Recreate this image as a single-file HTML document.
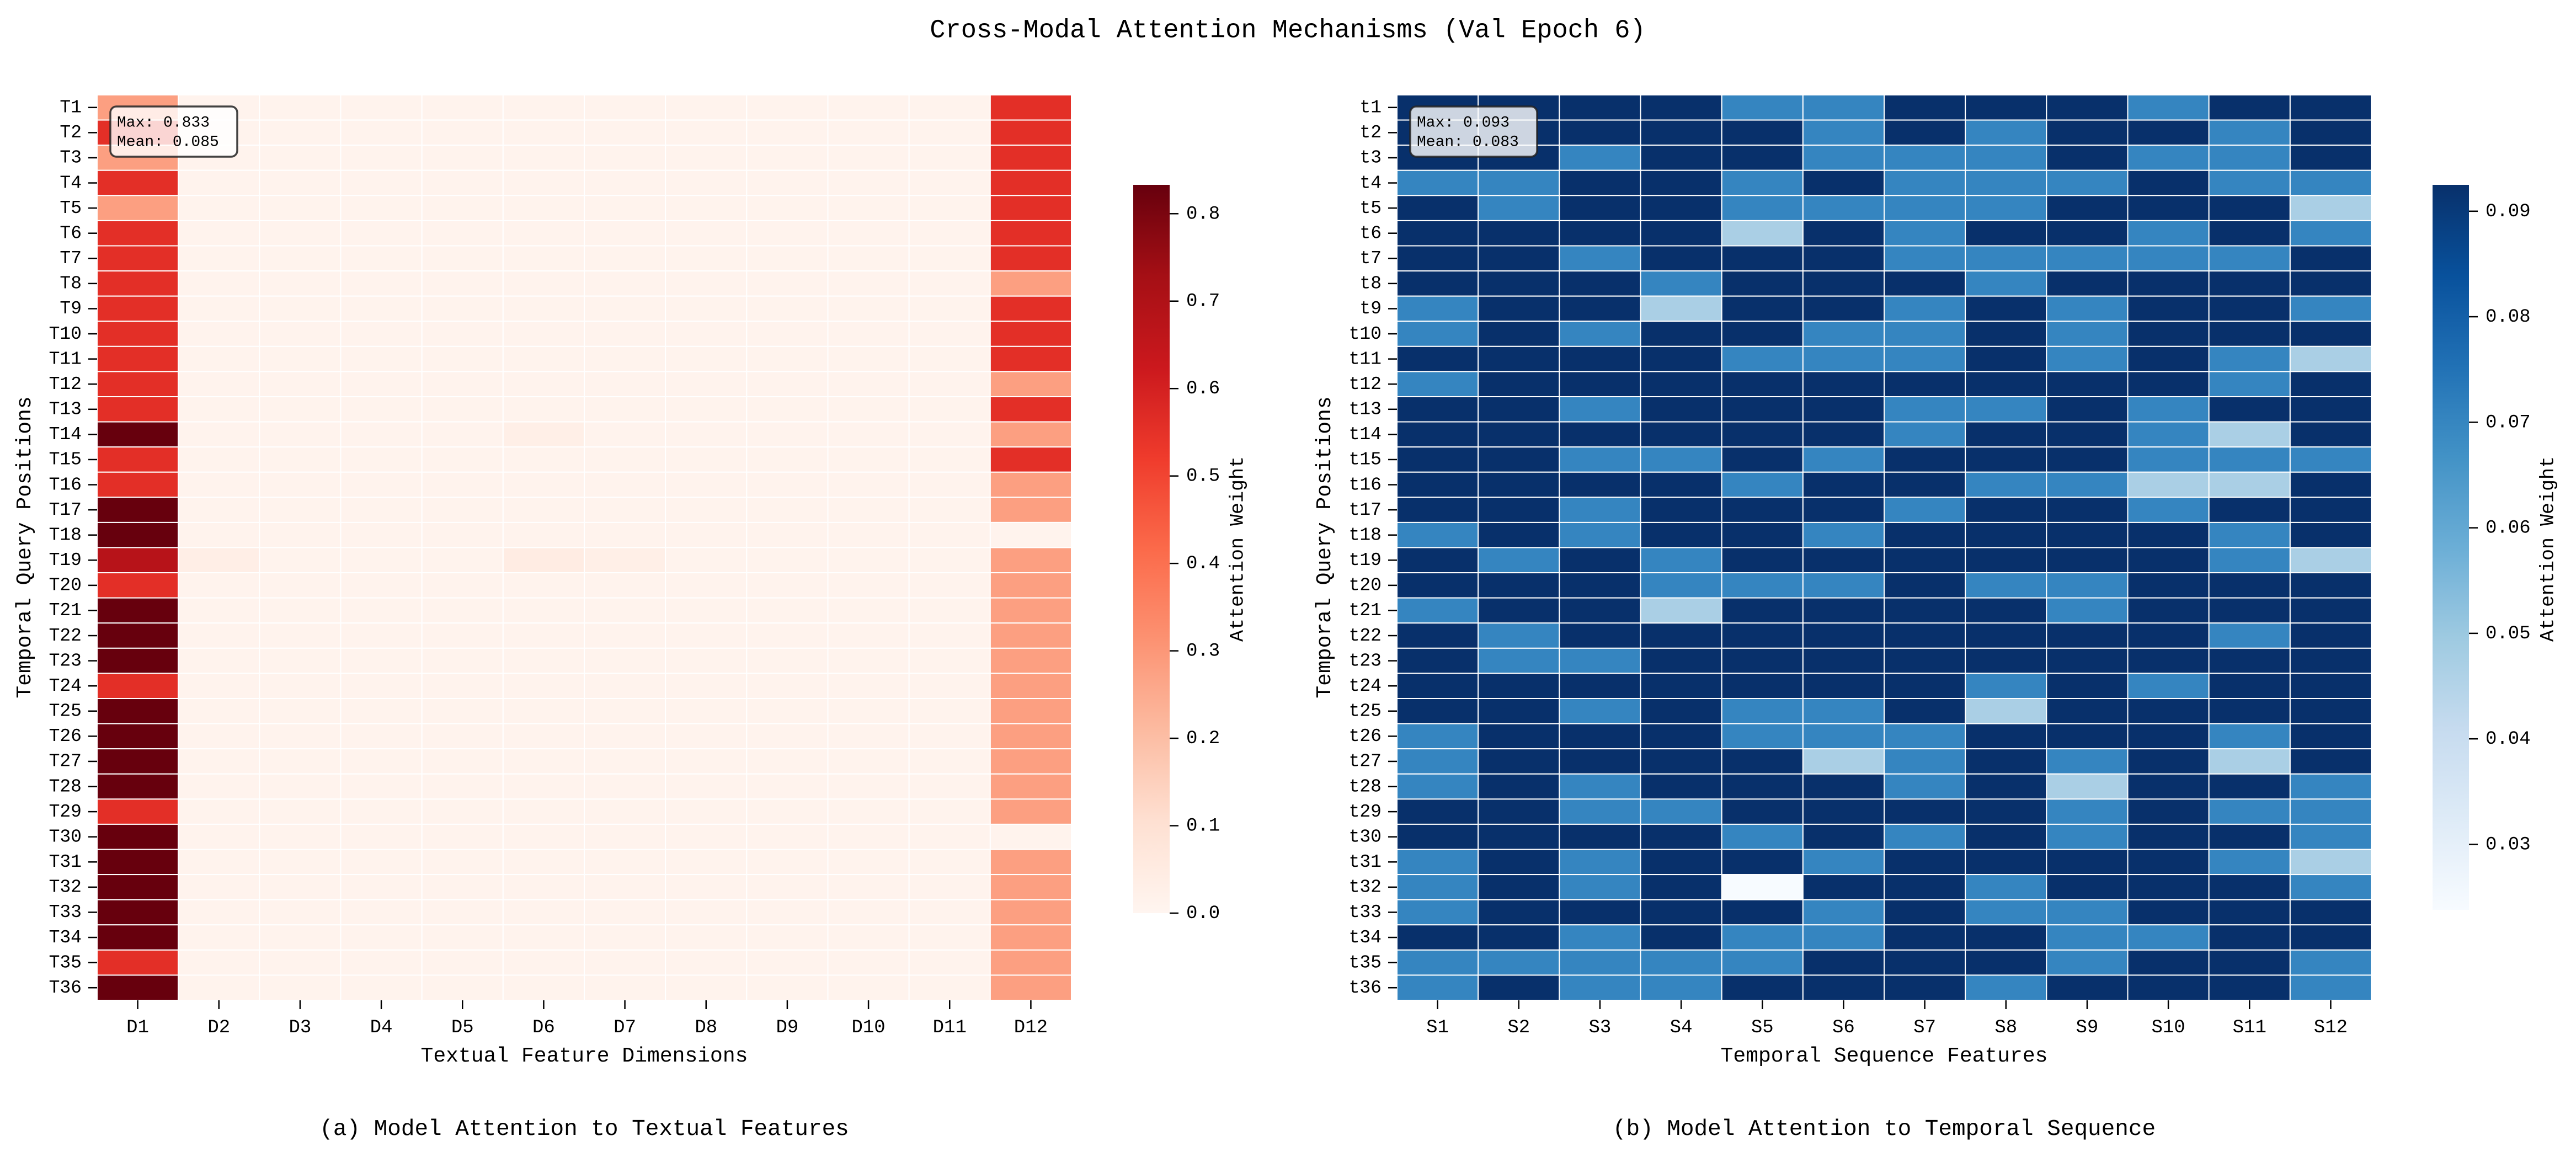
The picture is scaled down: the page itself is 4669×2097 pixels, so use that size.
<!DOCTYPE html>
<html><head><meta charset="utf-8"><style>
html,body{margin:0;padding:0;background:#fff;}
svg{display:block;}
text{font-family:"Liberation Mono","Noto Sans CJK SC",monospace;fill:#000;}
</style></head><body>
<svg id="fig" width="4669" height="2097" viewBox="0 0 4669 2097" xmlns="http://www.w3.org/2000/svg">
<text x="2334" y="55" font-size="47" text-anchor="middle" dominant-baseline="middle">Cross-Modal Attention Mechanisms (Val Epoch 6)</text>
<g id="left"></g>
<g id="right"></g>
</svg>
<script>
// ---- data: textual attention (rows T1..T36, cols D1..D12) ----
const leftRows = Array.from({length:36},(_,i)=>'T'+(i+1));
const leftCols = Array.from({length:12},(_,i)=>'D'+(i+1));
const leftD1 = [0.28,0.555,0.28,0.555,0.28,0.555,0.555,0.555,0.555,0.555,0.555,0.555,0.555,0.833,0.555,0.555,0.833,0.833,0.68,0.555,0.833,0.833,0.833,0.555,0.833,0.833,0.833,0.833,0.555,0.833,0.833,0.833,0.833,0.833,0.555,0.833];
const leftD12 = [0.555,0.555,0.555,0.555,0.555,0.555,0.555,0.28,0.555,0.555,0.555,0.28,0.555,0.28,0.555,0.28,0.28,0.012,0.28,0.28,0.28,0.28,0.28,0.28,0.28,0.28,0.28,0.28,0.28,0.012,0.28,0.28,0.28,0.28,0.28,0.28];
const leftBase = 0.012;
const leftBumps = [[13,5,0.03],[18,1,0.035],[18,5,0.045],[18,6,0.03]]; // [row, col, value]
const leftTicks = [0,0.1,0.2,0.3,0.4,0.5,0.6,0.7,0.8];
const leftVmin = 0, leftVmax = 0.833;

// ---- data: temporal attention (rows t1..t36, cols S1..S12) ----
const rightRows = Array.from({length:36},(_,i)=>'t'+(i+1));
const rightCols = Array.from({length:12},(_,i)=>'S'+(i+1));
const rightLevels = {D:0.0925,M:0.070,L:0.047,W:0.0238};
const rightGrid = [
"DDDDMMDDDMDD","DDDDDMDMDDMD","DDMDDMMMDMMD","MMDDMDMMMDMM","DMDDMMMMDDDL","DDDDLDMDDMDM",
"DDMDDDMMMMMD","DDDMDDDMDDDD","MDDLDDMDMDDM","MDMDDMMDMDDD","DDDDMMMDMDML","MDDDDDDDDDMD",
"DDMDDDMMDMDD","DDDDDDMDDMLD","DDMMDMDDDMMM","DDDDMDDMMLLD","DDMDDDMDDMDD","MDMDDMDDDDMD",
"DMDMDDDDDDML","DDDMMMDMMDDD","MDDLDDDDMDDD","DMDDDDDDDDMD","DMMDDDDDDDDD","DDDDDDDMDMDD",
"DDMDMMDLDDDD","MDDDMMMDDDMD","MDDDDLMDMDLD","MDMDDDMDLDDM","DDMMDDDDMDMM","DDDDMDMDMDDM",
"MDMDDMDDDDML","MDMDWDDMDDDM","MDDDDMDMMDDD","DDMDMMDDMMDD","MMMMMDDDMDDM","MDMMDDDMDDDM"];
const rightTicks = [0.03,0.04,0.05,0.06,0.07,0.08,0.09];
const rightVmin = 0.0238, rightVmax = 0.0925;

const REDS=["#fff5f0","#fee0d2","#fcbba1","#fc9272","#fb6a4a","#ef3b2c","#cb181d","#a50f15","#67000d"];
const BLUES=["#f7fbff","#deebf7","#c6dbef","#9ecae1","#6baed6","#4292c6","#2171b5","#08519c","#08306b"];
function hex(h){return [1,3,5].map(i=>parseInt(h.substr(i,2),16));}
function cmap(stops,t){t=Math.max(0,Math.min(1,t));const p=t*(stops.length-1);const i=Math.min(stops.length-2,Math.floor(p));const f=p-i;const a=hex(stops[i]),b=hex(stops[i+1]);return 'rgb('+a.map((v,k)=>Math.round(v+(b[k]-v)*f)).join(',')+')';}
const NS="http://www.w3.org/2000/svg";
function mk(tag,attrs,parent,txt){const e=document.createElementNS(NS,tag);for(const k in attrs)e.setAttribute(k,attrs[k]);if(txt!==undefined)e.textContent=txt;parent.appendChild(e);return e;}

function panel(g,o){
  const x0=o.x0,y0=172,W=1766,H=1641,cw=W/12,rh=H/36;
  const xs=c=>x0+c*cw, ys=r=>y0+r*rh;
  for(let r=0;r<36;r++)for(let c=0;c<12;c++){
    const v=o.values[r][c];
    const e=mk('rect',{x:xs(c),y:ys(r),width:cw,height:rh,fill:cmap(o.stops,(v-o.vmin)/(o.vmax-o.vmin)),stroke:'#fff','stroke-width':2},g);
    
    
  }
  for(let r=0;r<36;r++){
    const y=ys(r)+rh/2;
    const t=mk('line',{x1:x0-16,x2:x0,y1:y,y2:y,stroke:'#000','stroke-width':2.5},g);
    
    
    const l=mk('text',{x:x0-28,y:y,'font-size':33,'text-anchor':'end','dominant-baseline':'middle'},g,o.rows[r]);
    
    
  }
  for(let c=0;c<12;c++){
    const x=xs(c)+cw/2;
    const t=mk('line',{x1:x,x2:x,y1:y0+H,y2:y0+H+16,stroke:'#000','stroke-width':2.5},g);
    
    
    const l=mk('text',{x:x,y:1862,'font-size':34,'text-anchor':'middle','dominant-baseline':'middle'},g,o.cols[c]);
    
    
  }
  const xl=mk('text',{x:x0+W/2,y:1914,'font-size':38,'text-anchor':'middle','dominant-baseline':'middle'},g,o.xlabel);
  
  
  const yl=mk('text',{x:0,y:0,'font-size':38,'text-anchor':'middle','dominant-baseline':'middle',transform:'translate('+(x0-131)+',992) rotate(-90)'},g,'Temporal Query Positions');
  
  
  const st=mk('text',{x:x0+W/2,y:2046,'font-size':41,'text-anchor':'middle','dominant-baseline':'middle'},g,o.subtitle);
  
  
  // annotation box
  const bx=mk('rect',{x:x0+24,y:193,width:230,height:91,rx:11,ry:11,fill:o.boxFill,'fill-opacity':0.8,stroke:'#222','stroke-opacity':0.85,'stroke-width':3.5},g);
  
  
  const s1=mk('text',{x:x0+36,y:222,'font-size':28,'dominant-baseline':'middle','xml:space':'preserve'},g,o.stat1);
  
  
  const s2=mk('text',{x:x0+36,y:257,'font-size':28,'dominant-baseline':'middle'},g,o.stat2);
  
  
  // colorbar
  const cx=o.cbx,cT=335,cB=o.cbBottom,cWd=66;
  const gid='grad'+o.id;
  const defs=mk('defs',{},g);
  const lg=mk('linearGradient',{id:gid,x1:0,y1:1,x2:0,y2:0},defs);
  for(let i=0;i<=16;i++){mk('stop',{offset:i/16,'stop-color':cmap(o.stops,i/16)},lg);}
  const cb=mk('rect',{x:cx,y:cT,width:cWd,height:cB-cT,fill:'url(#'+gid+')'},g);
  
  
  const cy=v=>cB-(v-o.vmin)/(o.vmax-o.vmin)*(cB-cT);
  o.ticks.forEach(v=>{
    const y=cy(v);
    const t=mk('line',{x1:cx+cWd,x2:cx+cWd+16,y1:y,y2:y,stroke:'#000','stroke-width':2.5},g);
    
    
    const l=mk('text',{x:cx+cWd+30,y:y,'font-size':34,'dominant-baseline':'middle'},g,v.toFixed(o.dec));
    
    
  });
  const cl=mk('text',{x:0,y:0,'font-size':35,'text-anchor':'middle','dominant-baseline':'middle',transform:'translate('+o.cblx+',995) rotate(-90)'},g,'Attention Weight');
  
  
}

const leftVals=leftRows.map((_,r)=>leftCols.map((_,c)=>c===0?leftD1[r]:(c===11?leftD12[r]:leftBase)));
leftBumps.forEach(b=>{leftVals[b[0]][b[1]]=b[2];});
const rightVals=rightGrid.map(s=>s.split('').map(ch=>rightLevels[ch]));

panel(document.getElementById('left'),{id:'L',x0:176,rows:leftRows,cols:leftCols,values:leftVals,stops:REDS,vmin:leftVmin,vmax:leftVmax,
  xlabel:'Textual Feature Dimensions',subtitle:'(a) Model Attention to Textual Features',boxFill:'#ffffff',
  stat1:'Max:  0.833',stat2:'Mean: 0.085',cbx:2054,cbBottom:1655,ticks:leftTicks,dec:1,cblx:2243});
panel(document.getElementById('right'),{id:'R',x0:2532,rows:rightRows,cols:rightCols,values:rightVals,stops:BLUES,vmin:rightVmin,vmax:rightVmax,
  xlabel:'Temporal Sequence Features',subtitle:'(b) Model Attention to Temporal Sequence',boxFill:'#ffffff',
  stat1:'Max:  0.093',stat2:'Mean: 0.083',cbx:4409,cbBottom:1649,ticks:rightTicks,dec:2,cblx:4618});
</script>
</body></html>
